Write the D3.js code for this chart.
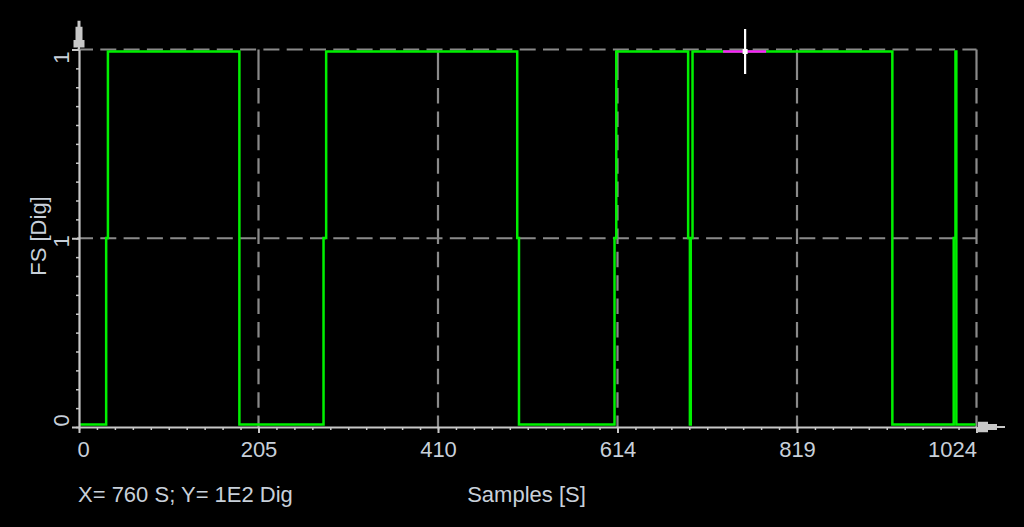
<!DOCTYPE html>
<html><head><meta charset="utf-8">
<script src="https://cdn.jsdelivr.net/npm/d3@7/dist/d3.min.js"></script>
<style>html,body{margin:0;padding:0;background:#000;overflow:hidden}</style>
</head><body>
<svg id="c" width="1024" height="527"></svg>
<script>
// ---- data ----
const samples  = [0, 31, 33, 183, 279, 282, 500, 502, 611, 613, 695, 697, 698, 700, 928, 998, 1000, 1001, 1023];
const fsValues = [0, 0.5, 1, 0,  0.5, 1,   0.5, 0,   0.5, 1,   0.5, 0,   0.5, 1,   0,   0.5, 1,    0,    0];
const xTicks = [0, 204.8, 409.6, 614.4, 819.2, 1024];
const xTickLabels = ["0", "205", "410", "614", "819", "1024"];
const yTicks = [0, 0.5, 1];
const yTickLabels = ["0", "1", "1"];
const cursorPoint = [760, 1];
const xTitle = "Samples [S]";
const yTitle = "FS [Dig]";
const cursorText = "X= 760 S; Y= 1E2 Dig";

// ---- setup ----
const svg = d3.select("#c");
const x = d3.scaleLinear().domain([0, 1024]).range([79, 976.5]);
const y = d3.scaleLinear().domain([0, 1]).range([427, 49.5]);
const yTrace = d3.scaleLinear().domain([0, 1]).range([424.5, 51.5]);
const FONT = "'Liberation Sans', Arial, sans-serif";
const TXT = "#c8d0da", AX = "#c8c8c8", GRID = "#8a8a8a";

svg.append("rect").attr("width", 1024).attr("height", 527).attr("fill", "#000");

// ---- grid ----
const grid = svg.append("g");
grid.selectAll("line.hg").data(yTicks.filter(v => v > 0)).join("line").attr("class", "hg")
  .attr("x1", x(0) - 2).attr("x2", x(1024)).attr("y1", d => y(d)).attr("y2", d => y(d))
  .attr("stroke", GRID).attr("stroke-width", 2.2).attr("stroke-dasharray", "16,7.3");
const vg = xTicks.filter(v => v > 0);
grid.selectAll("line.vg1").data(vg).join("line").attr("class", "vg1")
  .attr("x1", d => x(d)).attr("x2", d => x(d)).attr("y1", y(1)).attr("y2", y(1) + 30.5)
  .attr("stroke", GRID).attr("stroke-width", 2.2);
grid.selectAll("line.vg2").data(vg).join("line").attr("class", "vg2")
  .attr("x1", d => x(d)).attr("x2", d => x(d)).attr("y1", y(1) + 38.5).attr("y2", y(0))
  .attr("stroke", GRID).attr("stroke-width", 2.2).attr("stroke-dasharray", "15.5,7.9");

// ---- trace ----
const pts = samples.map((s, i) => [s, fsValues[i]]);
svg.append("path").datum(pts)
  .attr("d", d3.line().x(d => x(d[0])).y(d => yTrace(d[1])).curve(d3.curveStepAfter))
  .attr("fill", "none").attr("stroke", "#00f000").attr("stroke-width", 2.5);

// ---- axes ----
const minorX = d3.range(0, 51).map(i => i * 1024 / 50);
const minorY = d3.range(0, 21).map(i => i / 20);

const gxm = svg.append("g").attr("transform", `translate(0,${y(0)})`)
  .call(d3.axisBottom(x).tickValues(minorX).tickSize(3).tickSizeOuter(0).tickFormat(""));
const gym = svg.append("g").attr("transform", `translate(${x(0)},0)`)
  .call(d3.axisLeft(y).tickValues(minorY).tickSize(3).tickSizeOuter(0).tickFormat(""));
[gxm, gym].forEach(g => {
  g.select(".domain").remove();
  g.selectAll("line").attr("stroke", AX).attr("stroke-width", 1.5);
});

const gx = svg.append("g").attr("transform", `translate(0,${y(0)})`)
  .call(d3.axisBottom(x).tickValues(xTicks).tickSize(6).tickSizeOuter(0).tickFormat((d, i) => xTickLabels[i]));
const gy = svg.append("g").attr("transform", `translate(${x(0)},0)`)
  .call(d3.axisLeft(y).tickValues(yTicks).tickSize(7).tickSizeOuter(0).tickFormat((d, i) => yTickLabels[i]));
[gx, gy].forEach(g => {
  g.select(".domain").attr("stroke", AX).attr("stroke-width", 2.2);
  g.selectAll(".tick line").attr("stroke", AX).attr("stroke-width", 2);
  g.selectAll("text").attr("fill", TXT).attr("font-size", 22).attr("font-family", FONT);
});
gx.selectAll("text").attr("y", 30).attr("dy", 0)
  .attr("text-anchor", (d, i) => i === 0 ? "start" : (i === xTicks.length - 1 ? "end" : "middle"))
  .attr("x", (d, i) => i === 0 ? -2 : 0);
gy.selectAll("text").attr("transform", "rotate(-90)").attr("y", -10).attr("dy", 0)
  .attr("x", (d, i) => [1, -2.5, -1.5][i])
  .attr("text-anchor", (d, i) => ["start", "middle", "end"][i]);

// axis extensions + arrows
const ax0 = x(0), ay1 = y(1), ay0 = y(0), ax1 = x(1024);
svg.append("line").attr("x1", ax0).attr("x2", ax0).attr("y1", ay1).attr("y2", ay1 - 3)
  .attr("stroke", AX).attr("stroke-width", 2);
svg.append("path").attr("fill", AX)
  .attr("d", `M${ax0 - 5.5},${ay1 - 2} h11 v-7.5 h-2 v-13.3 h-2 v-6 h-3 v6 h-2 v13.3 h-2 z`);
svg.append("path").attr("fill", AX)
  .attr("d", `M${ax1 + 1.5},${ay0 - 5.3} h10 v2.3 h9 v2 h8 v2 h-8 v2 h-9 v2.3 h-10 z`);

// ---- titles ----
svg.append("text").attr("x", 526.5).attr("y", 502).attr("text-anchor", "middle")
  .attr("fill", TXT).attr("font-size", 22).attr("font-family", FONT).text(xTitle);
svg.append("text").attr("transform", "translate(46,236) rotate(-90)").attr("text-anchor", "middle")
  .attr("fill", TXT).attr("font-size", 22).attr("font-family", FONT).text(yTitle);
svg.append("text").attr("x", 78).attr("y", 502)
  .attr("fill", TXT).attr("font-size", 22).attr("font-family", FONT).text(cursorText);

// ---- cursor ----
const cx = x(cursorPoint[0]), cy = yTrace(cursorPoint[1]);
svg.append("line").attr("x1", cx - 22).attr("x2", cx + 21).attr("y1", cy).attr("y2", cy)
  .attr("stroke", "#ff1aff").attr("stroke-width", 2.6);
svg.append("line").attr("x1", cx).attr("x2", cx).attr("y1", cy - 22.5).attr("y2", cy + 22.5)
  .attr("stroke", "#ffffff").attr("stroke-width", 2.2);
svg.append("rect").attr("x", cx - 2.5).attr("y", cy - 2.5).attr("width", 5).attr("height", 5)
  .attr("fill", "#ffffff");
</script>
</body></html>
